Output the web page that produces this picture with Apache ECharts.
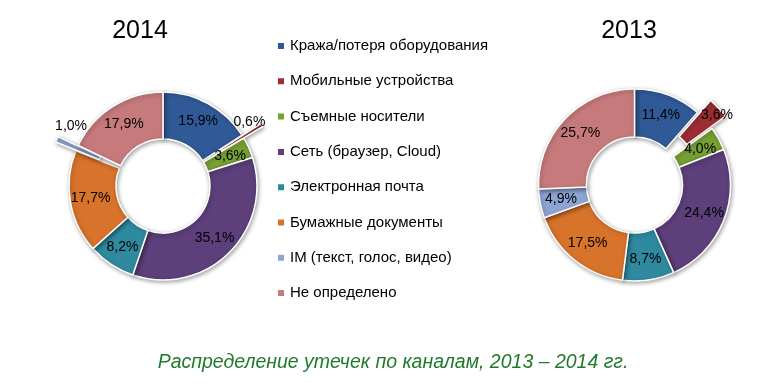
<!DOCTYPE html>
<html>
<head>
<meta charset="utf-8">
<script src="https://cdn.jsdelivr.net/npm/echarts@6/dist/echarts.min.js"></script>
<style>
html,body{margin:0;padding:0;background:#fff;}
#chart{width:780px;height:386px;}
</style>
</head>
<body>
<div id="chart"></div>
<script>
var categories = [
  'Кража/потеря оборудования',
  'Мобильные устройства',
  'Съемные носители',
  'Сеть (браузер, Cloud)',
  'Электронная почта',
  'Бумажные документы',
  'IM (текст, голос, видео)',
  'Не определено'
];
var values2014 = [15.9, 0.6, 3.6, 35.1, 8.2, 17.7, 1.0, 17.9];
var values2013 = [11.4, 3.6, 4.0, 24.4, 8.7, 17.5, 4.9, 25.7];
var colors = ['#305A97', '#9C2E32', '#76A034', '#5C3F7B', '#2F8AA0', '#D8732B', '#8DA5D4', '#C67A7C'];
var exploded2014 = [1, 6];
var exploded2013 = [1];
var outside2014 = [1, 6];

var FONT = '"Liberation Sans", Arial, sans-serif';

// small label nudges (pixels) keyed by series index and data index
var labelNudge = {
  '0-1': [-35, -2],
  '0-6': [37, -12],
  '1-1': [14, -7]
};

function fmt(v) { return v.toFixed(1).replace('.', ',') + '%'; }

function buildData(values, exploded, outside) {
  return values.map(function (v, i) {
    var d = { name: categories[i], value: v, itemStyle: { color: colors[i] } };
    if (exploded.indexOf(i) >= 0) d.selected = true;
    if (outside.indexOf(i) >= 0) {
      d.label = { position: 'outside' };
      d.labelLine = { show: false };
    }
    return d;
  });
}

var itemStyle = {
  borderColor: '#ffffff',
  borderWidth: 1.5,
  shadowBlur: 4,
  shadowColor: 'rgba(0,0,0,0.35)',
  shadowOffsetX: 1,
  shadowOffsetY: 1.5
};

var labelStyle = {
  show: true,
  position: 'inside',
  color: '#000',
  fontSize: 14,
  fontFamily: FONT,
  formatter: function (p) { return fmt(p.value); }
};

function nudge(params) {
  var n = labelNudge[params.seriesIndex + '-' + params.dataIndex];
  return n ? { dx: n[0], dy: n[1] } : {};
}

var chart = echarts.init(document.getElementById('chart'), null, { renderer: 'canvas' });
chart.setOption({
  backgroundColor: '#ffffff',
  animation: false,
  title: [
    { text: '2014', left: 140, top: 19, textAlign: 'center', padding: 0,
      textStyle: { fontSize: 25, fontWeight: 'normal', color: '#000', fontFamily: FONT } },
    { text: '2013', left: 629, top: 19, textAlign: 'center', padding: 0,
      textStyle: { fontSize: 25, fontWeight: 'normal', color: '#000', fontFamily: FONT } },
    { text: 'Распределение утечек по каналам, 2013 – 2014 гг.', left: 393, top: 353, textAlign: 'center', padding: 0,
      textStyle: { fontSize: 19.5, fontWeight: 'normal', fontStyle: 'italic', color: '#1F7A2B', fontFamily: FONT } }
  ],
  legend: {
    orient: 'vertical',
    left: 276,
    top: 38,
    padding: 0,
    itemWidth: 8,
    itemHeight: 8,
    itemGap: 19.3,
    icon: 'rect',
    selectedMode: false,
    data: categories,
    textStyle: { fontSize: 15, color: '#000', fontFamily: FONT, lineHeight: 16 }
  },
  series: [
    {
      type: 'pie',
      name: '2014',
      center: [163, 186],
      radius: [47, 94],
      startAngle: 90,
      clockwise: true,
      selectedMode: 'multiple',
      selectedOffset: 22,
      avoidLabelOverlap: false,
      itemStyle: itemStyle,
      label: labelStyle,
      labelLine: { show: false, length: 2, length2: 0 },
      labelLayout: nudge,
      emphasis: { disabled: true },
      data: buildData(values2014, exploded2014, outside2014)
    },
    {
      type: 'pie',
      name: '2013',
      center: [634.5, 185],
      radius: [48, 96],
      startAngle: 90,
      clockwise: true,
      selectedMode: 'multiple',
      selectedOffset: 18,
      avoidLabelOverlap: false,
      itemStyle: itemStyle,
      label: labelStyle,
      labelLine: { show: false },
      labelLayout: nudge,
      emphasis: { disabled: true },
      data: buildData(values2013, exploded2013, [])
    }
  ]
});
</script>
</body>
</html>
